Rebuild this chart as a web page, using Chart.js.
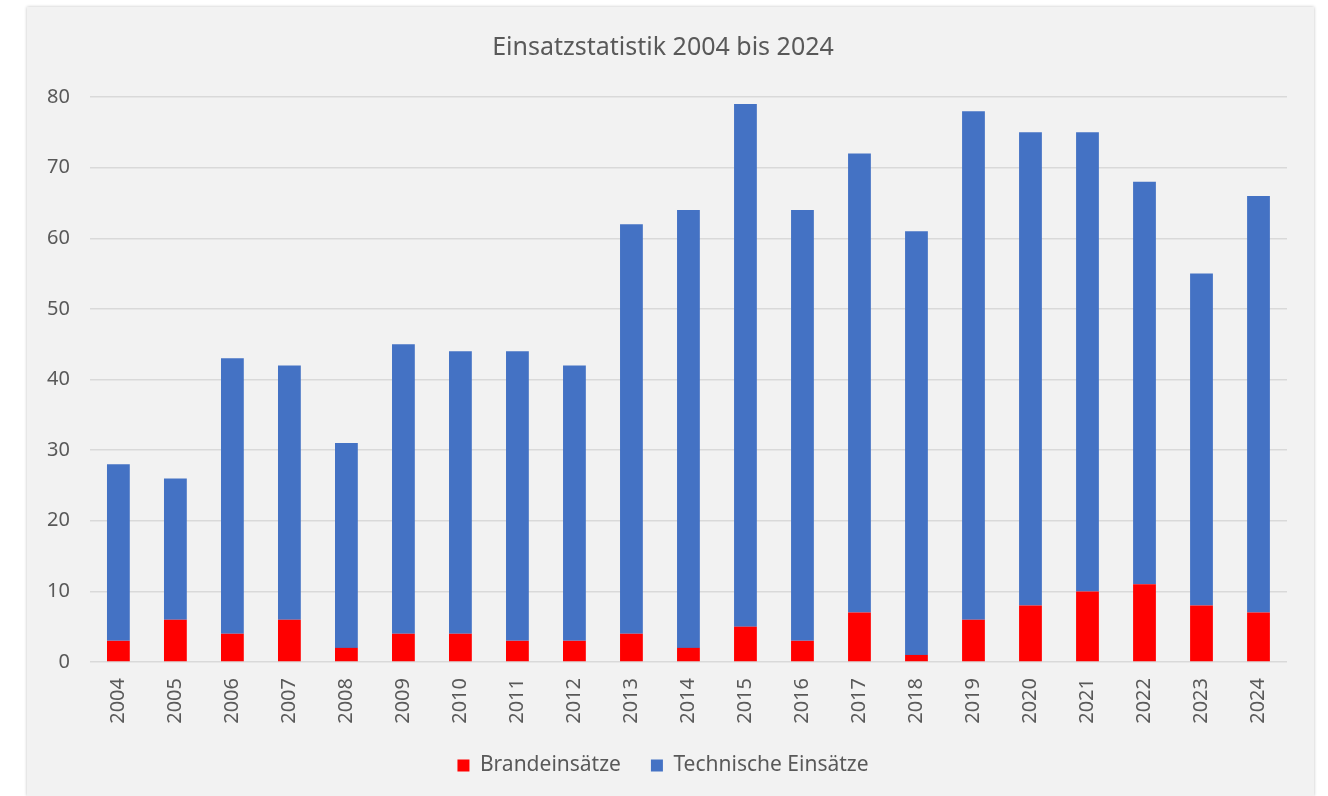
<!DOCTYPE html>
<html>
<head>
<meta charset="utf-8">
<script src="https://cdn.jsdelivr.net/npm/chart.js@4"></script>
<style>
    body { margin: 0; background: #ffffff; }
    #wrap {
        position: absolute; left: 27px; top: 7px; width: 1287px; height: 789px;
        background: #f2f2f2; box-shadow: 0 0 3px rgba(0,0,0,0.25);
    }
</style>
</head>
<body>
<div id="wrap"><canvas id="chart" width="1287" height="789"></canvas></div>
<script>
const years = ['2004', '2005', '2006', '2007', '2008', '2009', '2010', '2011', '2012', '2013', '2014',
    '2015', '2016', '2017', '2018', '2019', '2020', '2021', '2022', '2023', '2024'];
const brand = [3, 6, 4, 6, 2, 4, 4, 3, 3, 4, 2, 5, 3, 7, 1, 6, 8, 10, 11, 8, 7];
const technisch = [25, 20, 39, 36, 29, 41, 40, 41, 39, 58, 62, 74, 61, 65, 60, 72, 67, 65, 57, 47, 59];

const textColor = '#595959';
const font = 'Noto Sans';

new Chart(document.getElementById('chart'), {
    type: 'bar',
    data: {
        labels: years,
        datasets: [
            { label: 'Brandeinsätze', data: brand, backgroundColor: '#ff0000', barPercentage: 0.4, categoryPercentage: 1 },
            { label: 'Technische Einsätze', data: technisch, backgroundColor: '#4472c4', barPercentage: 0.4, categoryPercentage: 1 }
        ]
    },
    options: {
        responsive: false,
        animation: false,
        layout: { padding: { left: 0, right: 15, top: 10, bottom: 10 } },
        plugins: {
            title: {
                display: true,
                text: 'Einsatzstatistik 2004 bis 2024',
                color: textColor,
                font: { family: font, size: 25, weight: 'normal' },
                padding: { top: 16, bottom: 34 }
            },
            legend: {
                position: 'bottom',
                labels: { color: textColor, font: { family: font, size: 21 }, boxWidth: 12, boxHeight: 12, padding: 30 }
            },
            tooltip: { enabled: false }
        },
        scales: {
            x: {
                stacked: true,
                grid: { display: false, drawTicks: false },
                border: { display: false },
                ticks: { color: textColor, font: { family: font, size: 20 }, minRotation: 90, maxRotation: 90, padding: 16 },
                afterFit: scale => { scale.height = 63; }
            },
            y: {
                stacked: true,
                min: 0, max: 80,
                grid: { color: '#d9d9d9', lineWidth: 1.5, drawTicks: false },
                border: { display: false },
                ticks: { stepSize: 10, color: textColor, font: { family: font, size: 20 }, padding: 20 }
            },
            // empty right margin
            yRight: {
                position: 'right',
                grid: { display: false },
                border: { display: false },
                ticks: { display: false },
                afterFit: scale => { scale.width = 12; }
            }
        }
    }
});
</script>
</body>
</html>
